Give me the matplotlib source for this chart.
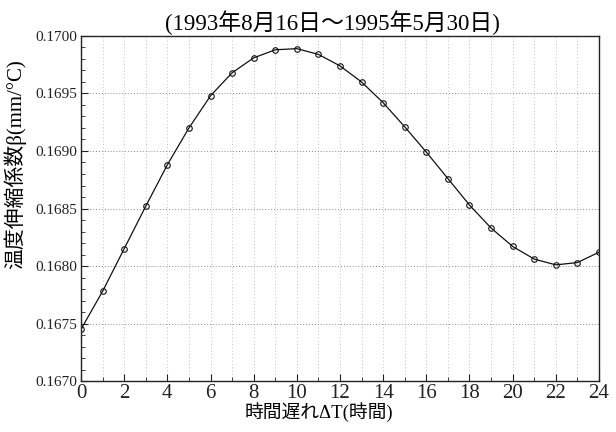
import numpy as np
import matplotlib
matplotlib.use("Agg")
import matplotlib.pyplot as plt
from matplotlib.ticker import MultipleLocator, FormatStrFormatter

# time lag (hours) and thermal expansion coefficient beta (mm/°C)
hours = list(range(25))
beta = [0.16745, 0.16778, 0.16815, 0.16852, 0.16888, 0.16920, 0.16948, 0.16968,
        0.16981, 0.16988, 0.16989, 0.16984, 0.16974, 0.16960, 0.16942, 0.16921,
        0.16899, 0.16876, 0.16853, 0.16833, 0.16817, 0.16806, 0.16801, 0.16803,
        0.16812]

title = "(1993年8月16日～1995年5月30日)"
xlabel = "時間遅れΔT(時間)"
ylabel = "温度伸縮係数β(mm/°C)"

FAM = ["Liberation Serif", "Noto Sans CJK JP", "DejaVu Sans"]
plt.rcParams["font.family"] = FAM

fig = plt.figure(figsize=(6.16, 4.32), dpi=100)
ax = fig.add_axes([0.1315, 0.118, 0.8409, 0.7987])

ax.plot(hours, beta, "-", color="#111111", lw=0.9, marker="o", ms=4,
        mfc="none", mec="#111111", mew=0.8)

ax.set_xlim(0, 24)
ax.set_ylim(0.1670, 0.1700)
ax.xaxis.set_major_locator(MultipleLocator(2))
ax.xaxis.set_minor_locator(MultipleLocator(1))
ax.yaxis.set_major_locator(MultipleLocator(0.0005))
ax.yaxis.set_minor_locator(MultipleLocator(0.0001))
ax.yaxis.set_major_formatter(FormatStrFormatter("%.4f"))
ax.tick_params(which="both", direction="in", top=False, right=False, colors="#222222")
ax.tick_params(which="major", length=5, pad=3)
ax.tick_params(which="minor", length=3)
ax.tick_params(axis="x", labelsize=15, pad=2)
ax.tick_params(axis="y", labelsize=11)

ax.grid(which="major", axis="y", ls=(0, (1, 2)), color="#888888", lw=0.7)
ax.grid(which="both", axis="x", ls=(0, (1, 3)), color="#aaaaaa", lw=0.6)
for s in ax.spines.values():
    s.set_color("#222222")
    s.set_linewidth(1.0)

ax.set_title(title, fontsize=16.5, pad=4, x=0.485)
ax.set_xlabel(xlabel, fontsize=13.5)
ax.xaxis.set_label_coords(0.46, -0.06)
ax.set_ylabel(ylabel, fontsize=15)
ax.yaxis.set_label_coords(-0.105, 0.63)

fig.savefig("out.png", dpi=100)
